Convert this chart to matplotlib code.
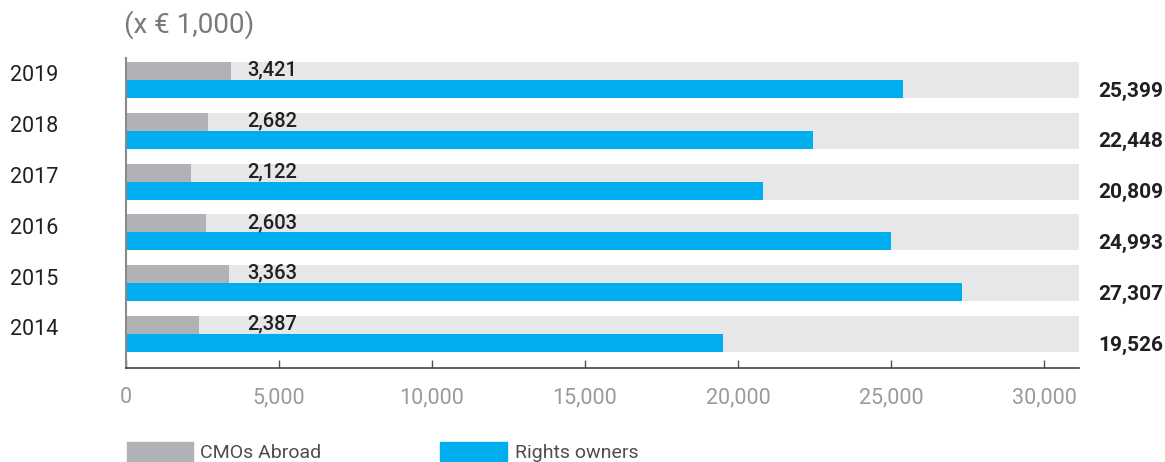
import numpy as np
import matplotlib.pyplot as plt
from matplotlib import transforms
from matplotlib.patches import Rectangle
from matplotlib.ticker import FuncFormatter

plt.rcParams['font.family'] = ['Roboto', 'DejaVu Sans']

# data (x EUR 1,000)
years = ['2019', '2018', '2017', '2016', '2015', '2014']
cmos_abroad = [3421, 2682, 2122, 2603, 3363, 2387]
rights_owners = [25399, 22448, 20809, 24993, 27307, 19526]

GREY = '#b1b2b5'
BAND = '#e6e7e8'
BLUE = '#00aeef'
DARK = '#231f20'

W, H = 1165, 462
fig = plt.figure(figsize=(W / 100, H / 100), dpi=100)
ax = fig.add_axes([126 / W, (H - 368) / H, 953 / W, 310 / H])

xmax = 31144
y = np.arange(len(years))[::-1]
h = 0.354

# light background band behind each pair of bars
ax.barh(y, xmax, height=2 * h, color=BAND, zorder=1)
ax.barh(y + h / 2, cmos_abroad, height=h, color=GREY, zorder=2)
ax.barh(y - h / 2, rights_owners, height=h, color=BLUE, zorder=2)

ax.set_xlim(0, xmax)
ax.set_ylim(-0.669, 5.433)

ax.set_xticks(np.arange(0, 30001, 5000))
ax.xaxis.set_major_formatter(FuncFormatter(lambda v, p: '{:,.0f}'.format(v)))
ax.tick_params(axis='x', direction='in', length=6, width=1, color='#555555',
               pad=14, labelsize=15.5, labelcolor='#9a9a9a')
ax.set_yticks([])

for s in ['top', 'right']:
    ax.spines[s].set_visible(False)
ax.spines['left'].set_color('#8a8a8a')
ax.spines['left'].set_linewidth(1.5)
ax.spines['bottom'].set_color('#444444')
ax.spines['bottom'].set_linewidth(1.2)

fig_data = transforms.blended_transform_factory(fig.transFigure, ax.transData)

for yi, yr, c, r in zip(y, years, cmos_abroad, rights_owners):
    ax.text(10 / W, yi + 0.08, yr, transform=fig_data, ha='left', va='center',
            fontsize=15.5, color=DARK)
    ax.text(3950, yi + h / 2 + 0.02, '{:,}'.format(c), ha='left', va='center',
            fontsize=14.5, fontweight='medium', color=DARK, zorder=3)
    ax.text(1163 / W, yi - h / 2 - 0.04, '{:,}'.format(r), transform=fig_data,
            ha='right', va='center', fontsize=15, fontweight='bold', color=DARK)

fig.text(124 / W, 1 - 25 / H, '(x \u20ac 1,000)', ha='left', va='center',
         fontsize=20, color='#7a7a7a')

# legend
fig.patches.append(Rectangle((127 / W, 0), 66 / W, 20 / H, transform=fig.transFigure,
                             color=GREY))
fig.text(200 / W, 9 / H, 'CMOs Abroad', ha='left', va='center', fontsize=14,
         color='#4d4d4d')
fig.patches.append(Rectangle((440 / W, 0), 67 / W, 20 / H, transform=fig.transFigure,
                             color=BLUE))
fig.text(515 / W, 9 / H, 'Rights owners', ha='left', va='center', fontsize=14,
         color='#4d4d4d')

fig.savefig('out.png', dpi=100)
